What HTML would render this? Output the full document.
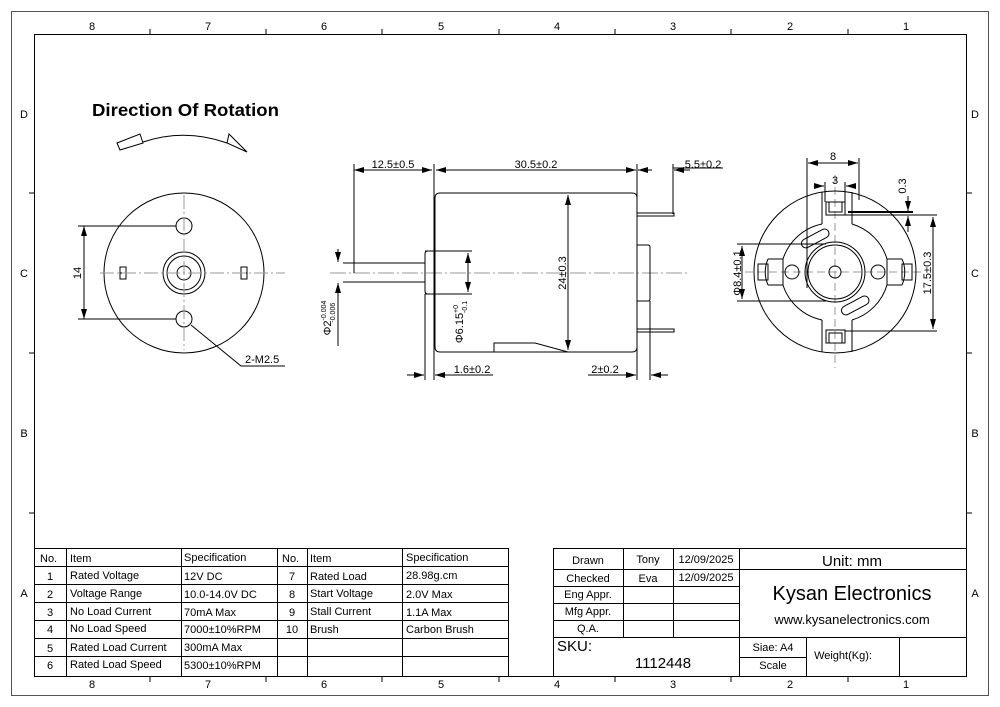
<!DOCTYPE html>
<html><head><meta charset="utf-8"><style>
html,body{margin:0;padding:0;background:#fff;}
svg{display:block;}
text{font-family:"Liberation Sans",Arial,sans-serif;fill:#000;}
</style></head><body>
<svg width="1000" height="707" viewBox="0 0 1000 707" xmlns="http://www.w3.org/2000/svg">
<defs>
<marker id="a" viewBox="0 0 10 6" refX="10" refY="3" markerWidth="10" markerHeight="6" orient="auto-start-reverse" markerUnits="userSpaceOnUse"><path d="M0,0 L10,3 L0,6z" fill="#000"/></marker>
</defs>
<g fill="none" stroke="#000" stroke-width="1">
<rect x="11.5" y="11.5" width="977" height="684" stroke="#555"/>
<rect x="34.5" y="34.5" width="932" height="642"/>
<path d="M150,29V35M266,29V35M382,29V35M499,29V35M615,29V35M731,29V35M848,29V35
M150,676V682M266,676V682M382,676V682M499,676V682M615,676V682M731,676V682M848,676V682
M29,193H35M29,353H35M29,513H35M966,193H972M966,353H972M966,513H972"/>
</g>
<g font-size="11" text-anchor="middle">
<text x="92" y="30">8</text><text x="208" y="30">7</text><text x="324" y="30">6</text><text x="441" y="30">5</text><text x="557" y="30">4</text><text x="673" y="30">3</text><text x="790" y="30">2</text><text x="906" y="30">1</text>
<text x="92" y="688">8</text><text x="208" y="688">7</text><text x="324" y="688">6</text><text x="441" y="688">5</text><text x="557" y="688">4</text><text x="673" y="688">3</text><text x="790" y="688">2</text><text x="906" y="688">1</text>
<text x="24" y="118">D</text><text x="24" y="277">C</text><text x="24" y="437">B</text><text x="24" y="597">A</text>
<text x="975" y="118">D</text><text x="975" y="277">C</text><text x="975" y="437">B</text><text x="975" y="597">A</text>
</g>

<text x="92" y="116" font-size="17.5" font-weight="bold" textLength="187" lengthAdjust="spacingAndGlyphs">Direction Of Rotation</text>
<g fill="none" stroke="#000" stroke-width="1">
<path d="M117,143L140,134L143,143L120,150Z"/>
<path d="M143,142Q185,128 227,143"/>
<path d="M229,134L247,152L227,143Z"/>
</g>

<g fill="none" stroke="#000" stroke-width="1">
<circle cx="184" cy="273" r="80"/>
<circle cx="184" cy="226" r="8"/><circle cx="184" cy="319" r="8"/>
<circle cx="184" cy="273" r="21"/><circle cx="184" cy="273" r="17"/><circle cx="184" cy="273" r="7"/>
<rect x="120" y="267" width="6" height="12"/><path d="M120,273H126"/>
<rect x="241" y="267" width="6" height="12"/><path d="M241,273H247"/>
<path d="M78,226H176M78,319H176"/>
<path d="M84,226V319" marker-start="url(#a)" marker-end="url(#a)"/>
<path d="M191,325L241,366H285"/>
</g>
<path d="M100,273H285M184,195V350" stroke="#999" stroke-width="1" stroke-dasharray="14,3,2,3" fill="none"/>
<text font-size="11" transform="translate(81,273) rotate(-90)" text-anchor="middle">14</text>
<text x="245" y="363" font-size="11">2-M2.5</text>

<path d="M330,273H690" stroke="#999" stroke-dasharray="16,3,2,3" fill="none"/>
<g fill="none" stroke="#000" stroke-width="1">
<path d="M440,193H632Q637,193 637,198V347Q637,352 632,352H440Q435,352 435,347V198Q435,193 440,193Z"/>
<path d="M435,251H428Q425,251 425,254V291Q425,294 428,294H435"/>
<path d="M355,263H425M355,282H425"/>
<path d="M637,245H648Q650,245 650,247V299Q650,301 648,301H637"/>
<path d="M637,213H674V216H637M637,329H674V332H637"/>
<path d="M494,352V343H535L568,352"/>
<path d="M354,164V273M434,164V380M637,164V380M673,164V214M673,168H723M425,294V380M650,301V380"/>
<path d="M354,170H432" marker-start="url(#a)" marker-end="url(#a)"/>
<path d="M436,170H636" marker-start="url(#a)" marker-end="url(#a)"/>
<path d="M652,170H638" marker-end="url(#a)"/><path d="M690,170H674" marker-end="url(#a)"/>
<path d="M568,195V350" marker-start="url(#a)" marker-end="url(#a)"/>
<path d="M425,251H472M425,294H472"/>
<path d="M468,253V292" marker-start="url(#a)" marker-end="url(#a)"/>
<path d="M343,263H355M343,282H355"/>
<path d="M338,249V262" marker-end="url(#a)"/><path d="M338,346V283" marker-end="url(#a)"/>
<path d="M407,375H424" marker-end="url(#a)"/><path d="M493,375H435" marker-end="url(#a)"/>
<path d="M588,375H636" marker-end="url(#a)"/><path d="M668,375H651" marker-end="url(#a)"/>
</g>
<g font-size="11" text-anchor="middle">
<text x="393" y="168">12.5±0.5</text>
<text x="536" y="168">30.5±0.2</text>
<text x="703" y="168">5.5±0.2</text>
<text x="472" y="373">1.6±0.2</text>
<text x="605" y="373">2±0.2</text>
<text transform="translate(566,273) rotate(-90)">24±0.3</text>
<text transform="translate(463,322) rotate(-90)">Φ6.15<tspan font-size="7" dy="-5">+0</tspan><tspan font-size="7" dx="-8" dy="9">-0.1</tspan></text>
<text transform="translate(331,318) rotate(-90)">Φ2<tspan font-size="7" dy="-5">-0.004</tspan><tspan font-size="7" dx="-22" dy="9">-0.006</tspan></text>
</g>

<path d="M745,272H925M835,175V368" stroke="#999" stroke-dasharray="8,4" fill="none"/>
<g fill="none" stroke="#000" stroke-width="1">
<circle cx="835" cy="272" r="81"/>
<circle cx="835" cy="272" r="30"/><circle cx="835" cy="272" r="27"/><circle cx="835" cy="272" r="6"/>
<circle cx="792" cy="272" r="7"/><circle cx="878" cy="272" r="7"/>
<path d="M822,192V224M852,192V224M822,320V352M852,320V352"/>
<path d="M822,224A52,52 0 0 0 783,259V285A52,52 0 0 0 822,320"/>
<path d="M852,224A52,52 0 0 1 887,259V285A52,52 0 0 1 852,320"/>
<path d="M783,259H768M783,285H768M887,259H902M887,285H902"/>
<path d="M768,259A32,32 0 0 0 768,285M902,259A32,32 0 0 1 902,285"/>
<rect x="758" y="264" width="10" height="16"/><rect x="902" y="264" width="10" height="16"/>
<rect x="826" y="202" width="19" height="13"/><path d="M829,202V212H842V202"/>
<rect x="826" y="330" width="19" height="13"/><path d="M829,343V333H842V343"/>
<rect x="800" y="234" width="30" height="9" rx="4.5" transform="rotate(-28 815 238)"/>
<rect x="840" y="301" width="30" height="9" rx="4.5" transform="rotate(-28 855 305)"/>
<path d="M807,158V288M859,158V200M825,182V202M845,182V202"/>
<path d="M808,163H858" marker-start="url(#a)" marker-end="url(#a)"/>
<path d="M815,186H824" marker-end="url(#a)"/><path d="M856,186H846" marker-end="url(#a)"/>
<path d="M848,212H913" stroke-width="2"/>
<path d="M845,215H937M845,331H937"/>
<path d="M908,196V211" marker-end="url(#a)"/><path d="M908,232V216" marker-end="url(#a)"/>
<path d="M933,217V329" marker-start="url(#a)" marker-end="url(#a)"/>
<path d="M737,244H826M737,301H826"/>
<path d="M742,246V299" marker-start="url(#a)" marker-end="url(#a)"/>
</g>
<g font-size="11" text-anchor="middle">
<text x="833" y="160">8</text><text x="835" y="184">3</text>
<text transform="translate(906,186) rotate(-90)">0.3</text>
<text transform="translate(931,273) rotate(-90)">17.5±0.3</text>
<text transform="translate(741,273) rotate(-90)">Φ8.4±0.1</text>
</g>

<g fill="none" stroke="#000" stroke-width="1">
<rect x="34.5" y="548.5" width="474" height="128"/>
<path d="M34,566.5H508M34,584.5H508M34,602.5H508M34,620.5H508M34,638.5H508M34,656.5H508"/>
<path d="M66.5,548V676M181.5,548V676M277.5,548V676M307.5,548V676M402.5,548V676"/>
</g>
<g font-size="11">
<text x="40" y="562">No.</text><text x="70" y="562">Item</text><text x="184" y="561">Specification</text><text x="282" y="562">No.</text><text x="310" y="562">Item</text><text x="406" y="561">Specification</text>
<g text-anchor="middle"><text x="50" y="580">1</text><text x="50" y="598">2</text><text x="50" y="616">3</text><text x="50" y="633">4</text><text x="50" y="652">5</text><text x="50" y="669">6</text>
<text x="292" y="580">7</text><text x="292" y="598">8</text><text x="292" y="616">9</text><text x="292" y="633">10</text></g>
<text x="70" y="579">Rated Voltage</text><text x="70" y="597">Voltage Range</text><text x="70" y="615">No Load Current</text><text x="70" y="632">No Load Speed</text><text x="70" y="651">Rated Load Current</text><text x="70" y="668">Rated Load Speed</text>
<text x="184" y="580">12V DC</text><text x="184" y="598">10.0-14.0V DC</text><text x="184" y="616">70mA Max</text><text x="184" y="633">7000±10%RPM</text><text x="184" y="651">300mA Max</text><text x="184" y="669">5300±10%RPM</text>
<text x="310" y="580">Rated Load</text><text x="310" y="597">Start Voltage</text><text x="310" y="615">Stall Current</text><text x="310" y="633">Brush</text>
<text x="406" y="579">28.98g.cm</text><text x="406" y="598">2.0V Max</text><text x="406" y="616">1.1A Max</text><text x="406" y="633">Carbon Brush</text>
</g>

<g fill="none" stroke="#000" stroke-width="1">
<path d="M553.5,548.5H966M553.5,548V676"/>
<path d="M553,569.5H739M739,569.5H966M553,586.5H739M553,603.5H739M553,620.5H739M553,637.5H966M739,657.5H806"/>
<path d="M623.5,548V637M673.5,548V637M739.5,548V676M806.5,637V676M899.5,637V676"/>
</g>
<g font-size="11" text-anchor="middle">
<text x="588" y="564">Drawn</text><text x="648" y="563">Tony</text><text x="706" y="563">12/09/2025</text>
<text x="588" y="582">Checked</text><text x="648" y="582">Eva</text><text x="706" y="581">12/09/2025</text>
<text x="588" y="598">Eng Appr.</text><text x="588" y="615">Mfg Appr.</text><text x="588" y="632">Q.A.</text>
<text x="852" y="566" font-size="15">Unit: mm</text>
<text x="852" y="600" font-size="20">Kysan Electronics</text>
<text x="852" y="624" font-size="13">www.kysanelectronics.com</text>
<text x="773" y="651">Siae: A4</text><text x="773" y="669">Scale</text>
<text x="843" y="659">Weight(Kg):</text>
<text x="663" y="668" font-size="15">1112448</text>
</g>
<text x="557" y="651" font-size="15">SKU:</text>
</svg>
</body></html>
